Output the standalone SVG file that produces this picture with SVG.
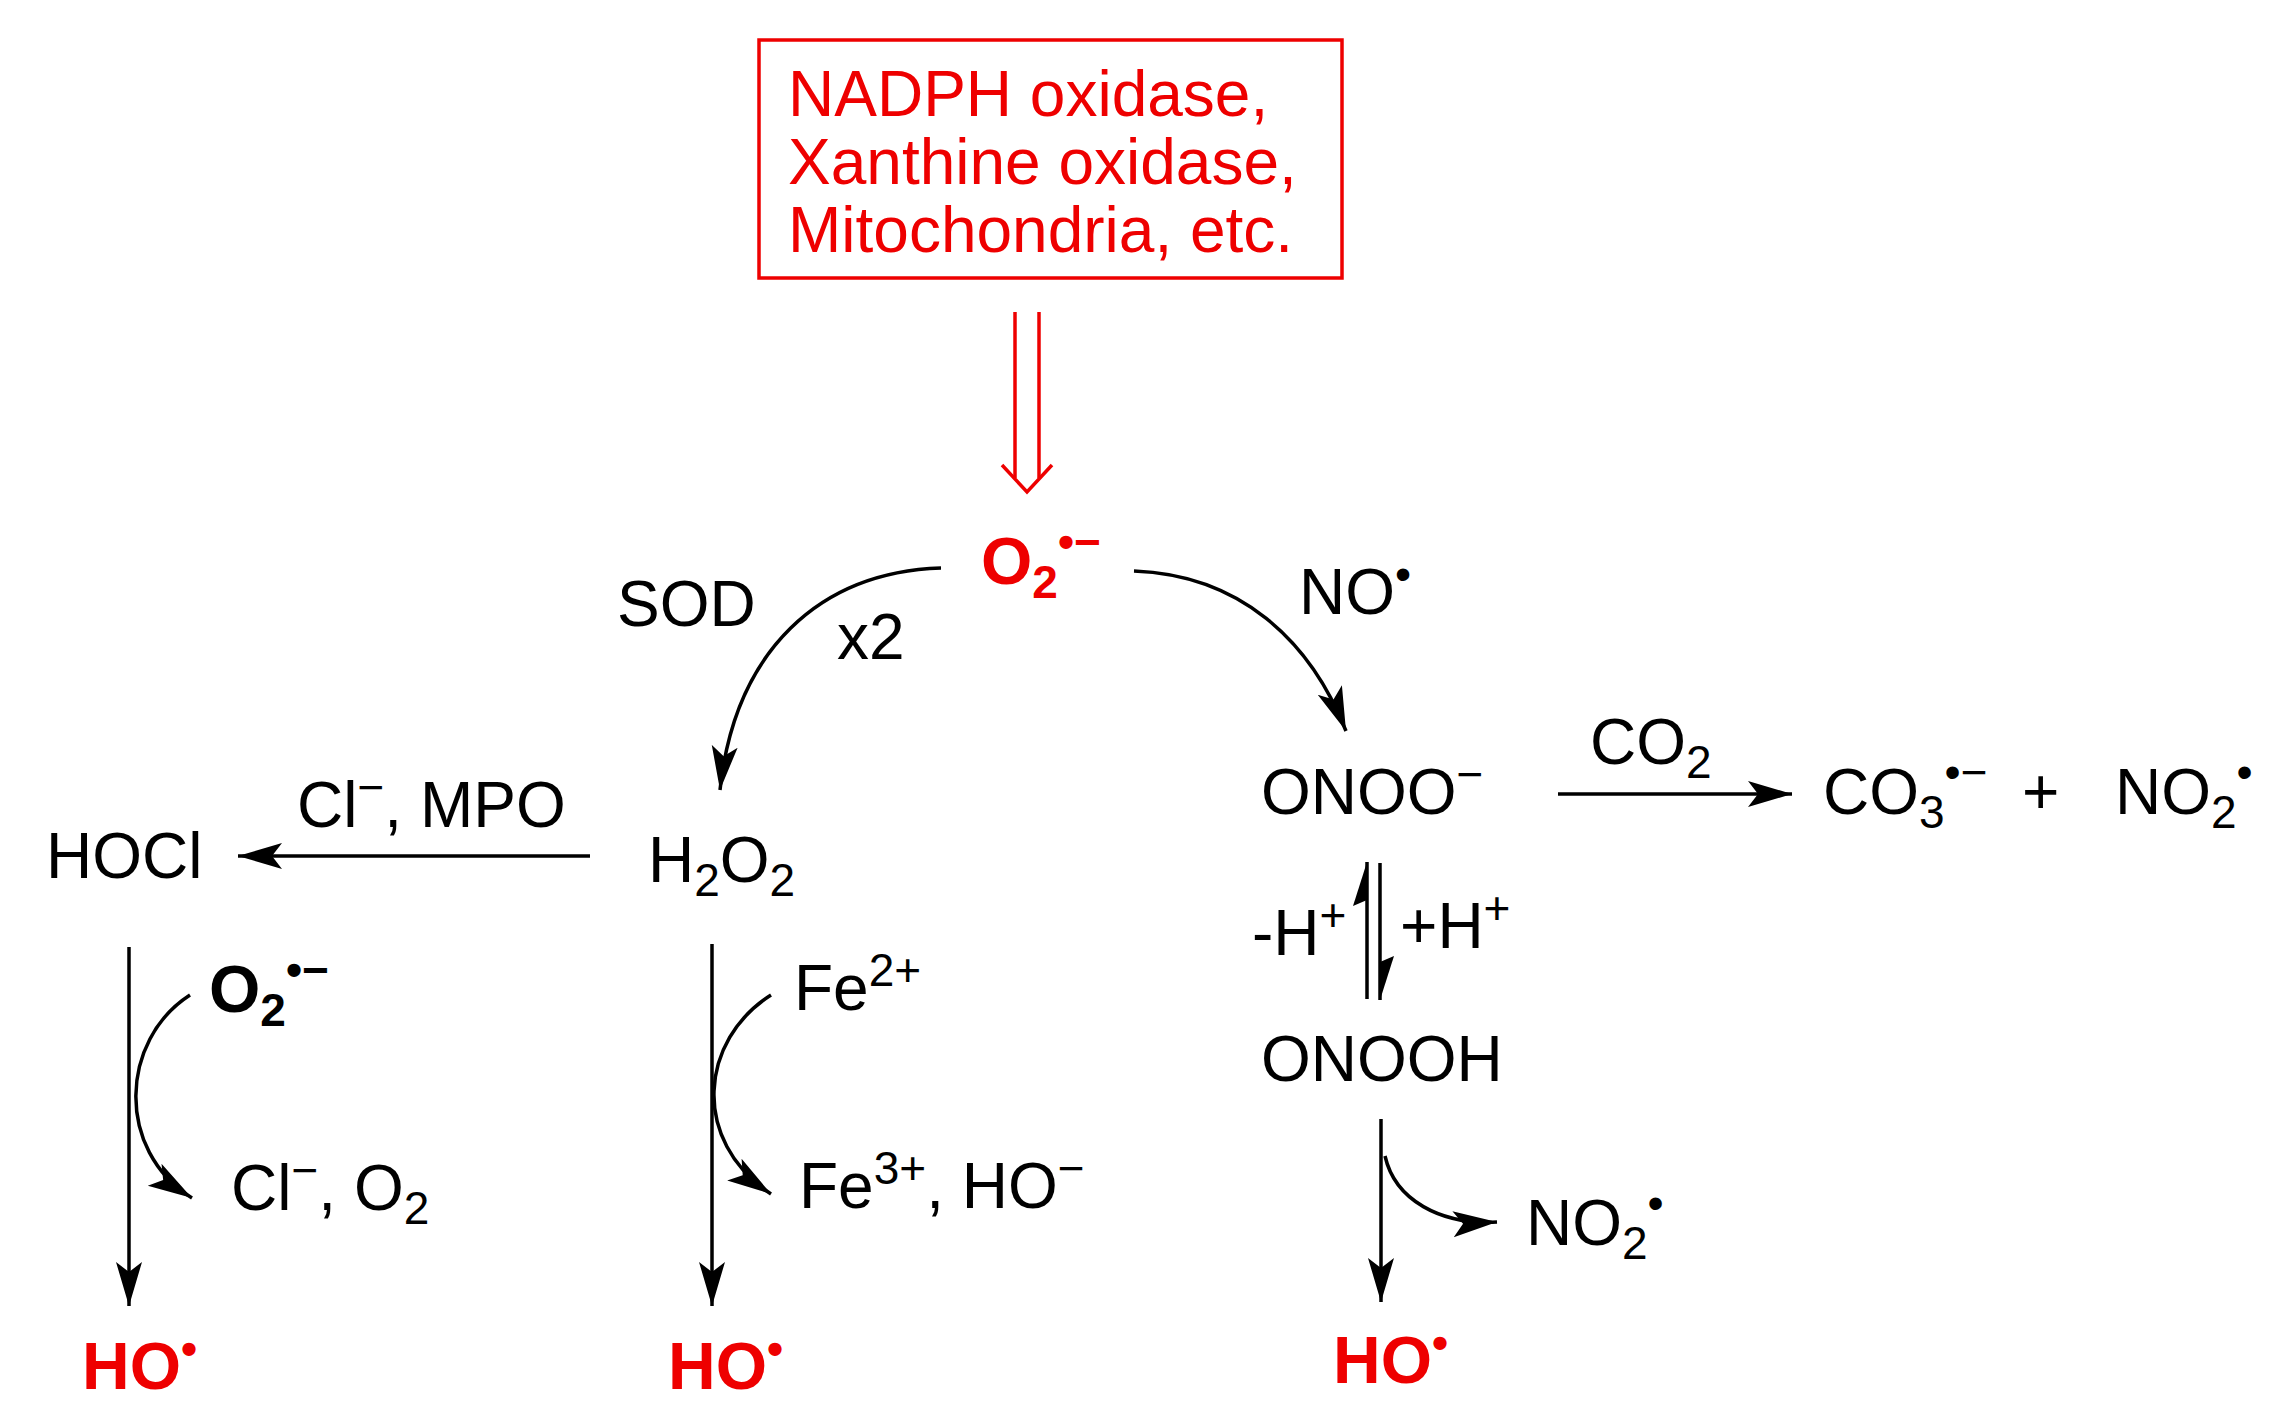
<svg xmlns="http://www.w3.org/2000/svg" width="2282" height="1428" viewBox="0 0 2282 1428">
<style>
text{font-family:"Liberation Sans",Arial,sans-serif;font-size:64px;fill:#000}
.r{fill:#e00}
.b{font-weight:bold;font-size:66px}
.s{font-size:46px}
.ln{stroke:#000;stroke-width:3.5;fill:none}
.rl{stroke:#e00;stroke-width:3.5;fill:none}
</style>
<defs>
<marker id="ah" markerUnits="userSpaceOnUse" markerWidth="48" markerHeight="34" viewBox="0 0 48 34" refX="44" refY="17" orient="auto">
<path d="M0,4 L44,17 L0,30 L10,17 Z" fill="#000"/>
</marker>
<marker id="hu" markerUnits="userSpaceOnUse" markerWidth="48" markerHeight="34" viewBox="0 0 48 34" refX="44" refY="17" orient="auto">
<path d="M0,3 L44,17 L6,17 Z" fill="#000"/>
</marker>
</defs>
<g id="source">
<rect x="759" y="40" width="583" height="238" fill="none" stroke="#e00" stroke-width="3.5"/>
<text x="788" y="116" class="r">NADPH oxidase,</text>
<text x="788" y="184" class="r">Xanthine oxidase,</text>
<text x="788" y="252" class="r">Mitochondria, etc.</text>
</g>
<g id="superoxide"><text x="981" y="584" class="r b">O<tspan class="s" dy="14">2</tspan><tspan class="s" dy="-40">•−</tspan></text></g>
<g id="h2o2"><text x="648" y="882">H<tspan class="s" dy="14">2</tspan><tspan dy="-14">O</tspan><tspan class="s" dy="14">2</tspan></text></g>
<g id="hocl"><text x="46" y="878">HOCl</text></g>
<g id="onoo"><text x="1261" y="814">ONOO<tspan class="s" dy="-24">−</tspan></text></g>
<g id="onooh"><text x="1261" y="1081">ONOOH</text></g>
<g id="products-co2"><text x="1823" y="814">CO<tspan class="s" dy="14">3</tspan><tspan class="s" dy="-40">•−</tspan></text><text x="2022" y="814">+</text><text x="2115" y="814">NO<tspan class="s" dy="14">2</tspan><tspan class="s" dy="-40">•</tspan></text></g>
<g id="no2-b"><text x="1526" y="1245">NO<tspan class="s" dy="14">2</tspan><tspan class="s" dy="-40">•</tspan></text></g>
<g id="ho1"><text x="82" y="1389" class="r b">HO<tspan class="s" dy="-24">•</tspan></text></g>
<g id="ho2"><text x="668" y="1389" class="r b">HO<tspan class="s" dy="-24">•</tspan></text></g>
<g id="ho3"><text x="1333" y="1383" class="r b">HO<tspan class="s" dy="-24">•</tspan></text></g>
<g id="labels">
<text x="617" y="626">SOD</text>
<text x="837" y="659">x2</text>
<text x="1299" y="614">NO<tspan class="s" dy="-24">•</tspan></text>
<text x="1590" y="764">CO<tspan class="s" dy="14">2</tspan></text>
<text x="297" y="827">Cl<tspan class="s" dy="-24">−</tspan><tspan dy="24">, MPO</tspan></text>
<text x="1252" y="955">-H<tspan class="s" dy="-24">+</tspan></text>
<text x="1400" y="948">+H<tspan class="s" dy="-24">+</tspan></text>
<text x="209" y="1012" class="b">O<tspan class="s" dy="14">2</tspan><tspan class="s" dy="-40">•−</tspan></text>
<text x="231" y="1210">Cl<tspan class="s" dy="-24">−</tspan><tspan dy="24">, O</tspan><tspan class="s" dy="14">2</tspan></text>
<text x="794" y="1010">Fe<tspan class="s" dy="-24">2+</tspan></text>
<text x="799" y="1208">Fe<tspan class="s" dy="-24">3+</tspan><tspan dy="24">, HO</tspan><tspan class="s" dy="-24">−</tspan></text>
</g>
<g id="connectors">
<line x1="1015" y1="312" x2="1015" y2="478" class="rl"/>
<line x1="1039" y1="312" x2="1039" y2="478" class="rl"/>
<path d="M1002,465 L1027,492 L1052,465" class="rl"/>
<path d="M941,568 C820,572 735,650 720,790" class="ln" marker-end="url(#ah)"/>
<path d="M1134,571 C1240,575 1310,640 1346,731" class="ln" marker-end="url(#ah)"/>
<line x1="1558" y1="794" x2="1792" y2="794" class="ln" marker-end="url(#ah)"/>
<line x1="590" y1="856" x2="238" y2="856" class="ln" marker-end="url(#ah)"/>
<line x1="1367" y1="999" x2="1367" y2="862" class="ln" marker-end="url(#hu)"/>
<line x1="1380" y1="863" x2="1380" y2="1000" class="ln" marker-end="url(#hu)"/>
<line x1="1381" y1="1119" x2="1381" y2="1302" class="ln" marker-end="url(#ah)"/>
<path d="M1385,1156 C1395,1200 1440,1225 1497,1222" class="ln" marker-end="url(#ah)"/>
<line x1="712" y1="944" x2="712" y2="1306" class="ln" marker-end="url(#ah)"/>
<path d="M771,995 C700,1040 690,1140 771,1194" class="ln" marker-end="url(#ah)"/>
<line x1="129" y1="947" x2="129" y2="1306" class="ln" marker-end="url(#ah)"/>
<path d="M190,995 C120,1040 115,1150 192,1198" class="ln" marker-end="url(#ah)"/>
</g>
</svg>
